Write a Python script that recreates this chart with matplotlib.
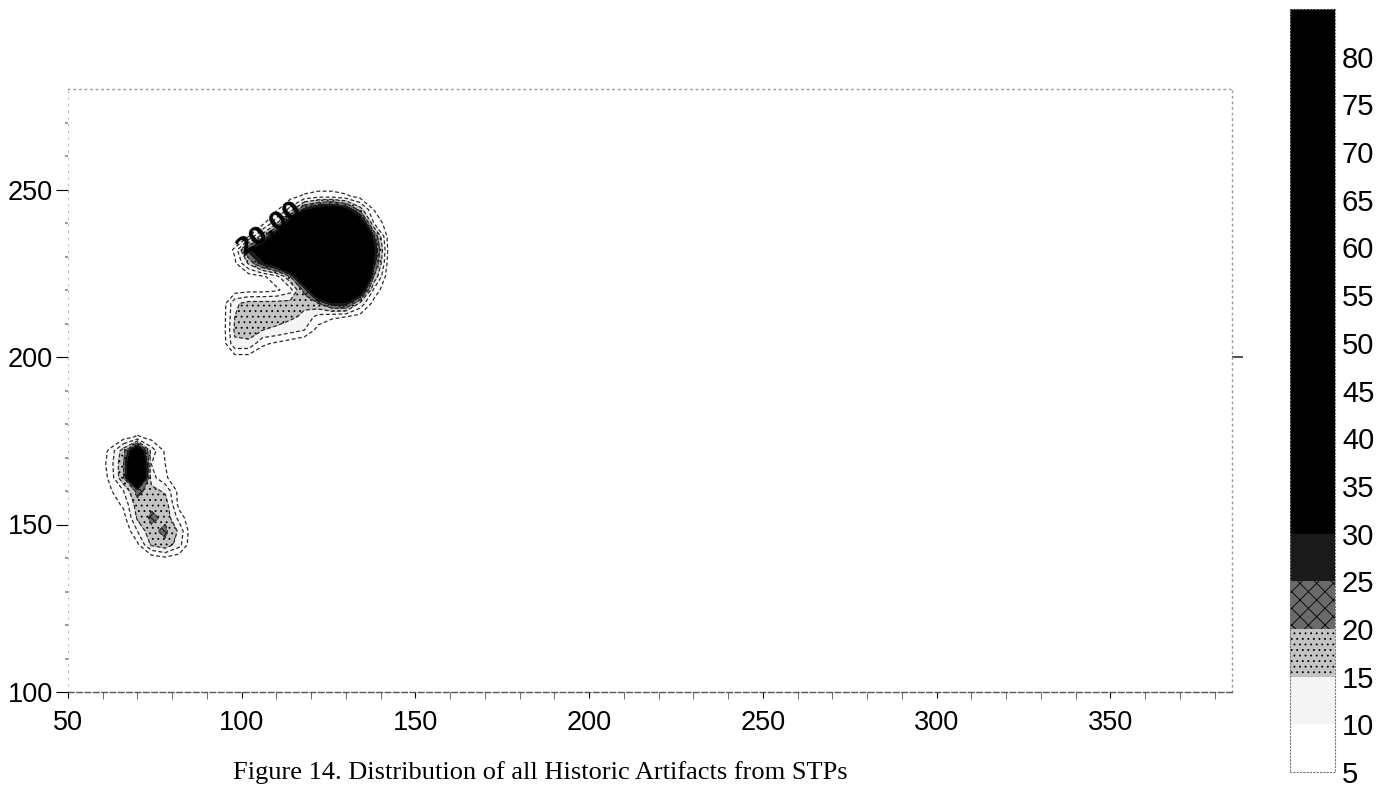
import numpy as np
import matplotlib
matplotlib.use("Agg")
import matplotlib.pyplot as plt

# ---------------- data ----------------
levels = [5, 10, 15, 20, 25, 30, 35, 40, 45, 50, 55, 60, 65, 70, 75, 80, 85]
cbar_ticks = [5, 10, 15, 20, 25, 30, 35, 40, 45, 50, 55, 60, 65, 70, 75, 80]

# north-east concentration (grid of estimated artifact counts)
blob1_x = [94, 98, 102, 106, 110, 114, 118, 122, 126, 130, 134, 138, 142, 146]
blob1_y = [252, 248, 244, 240, 236, 232, 228, 224, 220, 216, 212, 208, 204, 200]
blob1_z = [
    [0, 0, 0, 0, 0, 0, 0, 0, 0, 0, 0, 0, 0, 0],
    [0, 0, 0, 0, 0, 3, 6, 8, 8, 6, 3, 0, 0, 0],
    [0, 0, 0, 0, 4, 12, 27, 34, 37, 32, 18, 5, 0, 0],
    [0, 0, 0, 3, 14, 35, 60, 75, 80, 72, 38, 10, 2, 0],
    [0, 0, 5, 18, 35, 55, 75, 84, 84, 84, 60, 26, 4, 0],
    [0, 6, 27, 38, 45, 60, 78, 84, 84, 84, 70, 32, 5, 0],
    [0, 4, 16, 28, 36, 52, 70, 84, 84, 84, 68, 28, 4, 0],
    [0, 0, 2, 4, 8, 20, 42, 72, 82, 80, 60, 20, 2, 0],
    [0, 2, 3, 3, 4, 8, 22, 45, 58, 56, 38, 9, 0, 0],
    [0, 14, 17, 17, 17, 17, 16, 20, 28, 28, 14, 3, 0, 0],
    [0, 15, 17, 17, 17, 16, 14, 8, 6, 5, 3, 0, 0, 0],
    [0, 16, 17, 15, 14, 12, 10, 3, 0, 0, 0, 0, 0, 0],
    [0, 14, 14, 6, 4, 2, 0, 0, 0, 0, 0, 0, 0, 0],
    [0, 3, 3, 1, 0, 0, 0, 0, 0, 0, 0, 0, 0, 0],
]

# western concentration
blob2_x = [58, 62, 66, 70, 74, 78, 82, 86]
blob2_y = [180, 176, 172, 168, 164, 160, 156, 152, 148, 144, 140]
blob2_z = [
    [0, 0, 0, 0, 0, 0, 0, 0],
    [0, 0, 3, 6, 3, 0, 0, 0],
    [0, 6, 18, 40, 13, 4, 0, 0],
    [0, 7, 20, 60, 10, 5, 0, 0],
    [0, 6, 20, 55, 12, 6, 0, 0],
    [0, 4, 10, 22, 17, 14, 3, 0],
    [0, 2, 6, 18, 19, 18, 3, 0],
    [0, 0, 3, 16, 21, 19, 8, 0],
    [0, 0, 0, 10, 19, 21, 14, 0],
    [0, 0, 0, 4, 16, 19, 12, 0],
    [0, 0, 0, 0, 2, 4, 2, 0],
]

x_major = [50, 100, 150, 200, 250, 300, 350]
y_major = [100, 150, 200, 250]
contour_label = "20.00"
caption = "Figure 14. Distribution of all Historic Artifacts from STPs"

# ---------------- styling ----------------
band_colors = ["#ffffff", "#f4f4f4", "#c4c4c4", "#6a6a6a", "#1a1a1a"] + ["#000000"] * 11
band_hatches = [None, None, "...", "xx", None] + [None] * 11
dash = (0, (3, 2))
tick_font = "Liberation Sans"

W, H = 1394, 787
fig = plt.figure(figsize=(W / 100, H / 100), dpi=100)
ax = fig.add_axes([68 / W, 1 - 692 / H, (1232 - 68) / W, (692 - 89) / H])
ax.set_xlim(50, 385)
ax.set_ylim(100, 280)

plt.rcParams["hatch.linewidth"] = 0.6

for xs, ys, zs in ((blob1_x, blob1_y, blob1_z), (blob2_x, blob2_y, blob2_z)):
    X, Y = np.meshgrid(np.array(xs, float), np.array(ys, float))
    Z = np.array(zs, float)
    cf = ax.contourf(X, Y, Z, levels=levels, colors=band_colors, hatches=band_hatches)
    ax.contour(X, Y, Z, levels=[5, 10, 15, 20], colors="#2a2a2a",
               linewidths=0.9, linestyles=[dash] * 4)

ax.text(107.9, 238.5, contour_label, rotation=37, rotation_mode="anchor",
        ha="center", va="center", fontsize=17, fontweight="bold",
        family="DejaVu Sans", color="black")

# ticks
ax.set_xticks(x_major)
ax.set_xticklabels([str(v) for v in x_major])
ax.set_xticks(np.arange(50, 390, 10), minor=True)
ax.set_yticks(y_major)
ax.set_yticklabels([str(v) for v in y_major])
ax.set_yticks(np.arange(110, 280, 10), minor=True)
ax.tick_params(axis="x", which="major", direction="out", length=4, pad=9,
               labelsize=19.5, colors="black")
ax.tick_params(axis="x", which="minor", direction="out", length=5, color="#555555")
ax.tick_params(axis="y", which="major", direction="out", length=9, pad=2,
               labelsize=19.5, colors="black")
ax.tick_params(axis="y", which="minor", direction="out", length=2, width=1.2,
               color="#888888")
for lab in ax.get_xticklabels() + ax.get_yticklabels():
    lab.set_family(tick_font)

sec = ax.secondary_yaxis("right")
sec.set_yticks([200])
sec.set_yticklabels([""])
sec.tick_params(direction="out", length=8, width=1.2, color="#333333")
sec.spines["right"].set_visible(False)

for side in ("top", "right"):
    ax.spines[side].set_color("#9a9a9a")
    ax.spines[side].set_linestyle((0, (1, 3)))
    ax.spines[side].set_linewidth(1.0)
ax.spines["left"].set_color("#bbbbbb")
ax.spines["left"].set_linestyle((0, (1, 5)))
ax.spines["bottom"].set_color("#555555")
ax.spines["bottom"].set_linestyle((0, (4, 2)))
ax.spines["bottom"].set_linewidth(1.0)

# colorbar
cax = fig.add_axes([1290 / W, 1 - 772 / H, 45 / W, (772 - 9) / H])
cb = fig.colorbar(cf, cax=cax, ticks=cbar_ticks)
cb.ax.tick_params(length=0, pad=5, labelsize=21)
for lab in cb.ax.get_yticklabels():
    lab.set_family(tick_font)
cb.outline.set_edgecolor("#777777")
cb.outline.set_linestyle((0, (1, 2)))
cb.outline.set_linewidth(0.8)

fig.text(540 / W, 1 - 773 / H, caption, ha="center", va="center",
         fontsize=19, family="Liberation Serif", color="black")

fig.savefig("out.png", dpi=100, facecolor="white")
